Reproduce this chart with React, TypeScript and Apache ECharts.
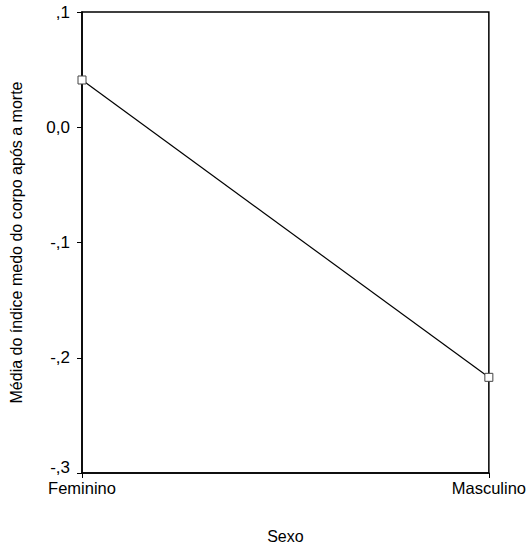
import React, { useEffect, useRef } from "react";
import * as echarts from "echarts";

const categories = ["Feminino", "Masculino"];
const means = [0.041, -0.217];
const yTicks = [-0.3, -0.2, -0.1, 0.0, 0.1];
const yTickLabels = ["-,3", "-,2", "-,1", "0,0", ",1"];

export default function App() {
  const ref = useRef<HTMLDivElement>(null);
  useEffect(() => {
    if (!ref.current) return;
    const chart = echarts.init(ref.current, undefined, { renderer: "svg" });
    const font = "'Liberation Sans', Arial, sans-serif";
    chart.setOption({
      animation: false,
      backgroundColor: "#ffffff",
      grid: {
        left: 77,
        right: 39,
        top: 12,
        bottom: 80,
        show: true,
        borderColor: "#000",
        borderWidth: 1.5,
        backgroundColor: "transparent",
      },
      xAxis: {
        type: "category",
        data: categories,
        boundaryGap: false,
        name: "Sexo",
        nameLocation: "middle",
        nameGap: 55,
        nameTextStyle: { fontFamily: font, fontSize: 16, color: "#000" },
        axisLine: { onZero: false, lineStyle: { color: "#000", width: 1.5 } },
        axisTick: { show: true, length: 5, lineStyle: { color: "#000" } },
        axisLabel: { fontFamily: font, fontSize: 16.5, color: "#000", margin: 6 },
        splitLine: { show: false },
      },
      yAxis: {
        type: "value",
        min: -0.3,
        max: 0.1,
        interval: 0.1,
        name: "Média do índice medo do corpo após a morte",
        nameLocation: "middle",
        nameGap: 58,
        nameRotate: 90,
        nameTextStyle: { fontFamily: font, fontSize: 16, color: "#000" },
        axisLine: { show: true, onZero: false, lineStyle: { color: "#000", width: 1.5 } },
        axisTick: { show: true, length: 5, lineStyle: { color: "#000" } },
        axisLabel: {
          fontFamily: font,
          fontSize: 17,
          color: "#000",
          margin: 12,
          formatter: (v: number) => {
            const i = yTicks.findIndex((t) => Math.abs(t - v) < 1e-9);
            if (i < 0) return "";
            return i === 0 ? "{low|" + yTickLabels[i] + "}" : yTickLabels[i];
          },
          rich: {
            low: { fontFamily: font, fontSize: 17, color: "#000", padding: [0, 0, 12, 0] },
          },
        },
        splitLine: { show: false },
      },
      series: [
        {
          type: "line",
          data: means,
          symbol: "rect",
          symbolSize: 8,
          showSymbol: true,
          itemStyle: { color: "#fff", borderColor: "#444", borderWidth: 1 },
          lineStyle: { color: "#000", width: 1.2 },
        },
      ],
    });
    return () => chart.dispose();
  }, []);
  return (
    <div
      ref={ref}
      style={{ position: "absolute", left: 0, top: 0, width: 529, height: 553 }}
    />
  );
}
